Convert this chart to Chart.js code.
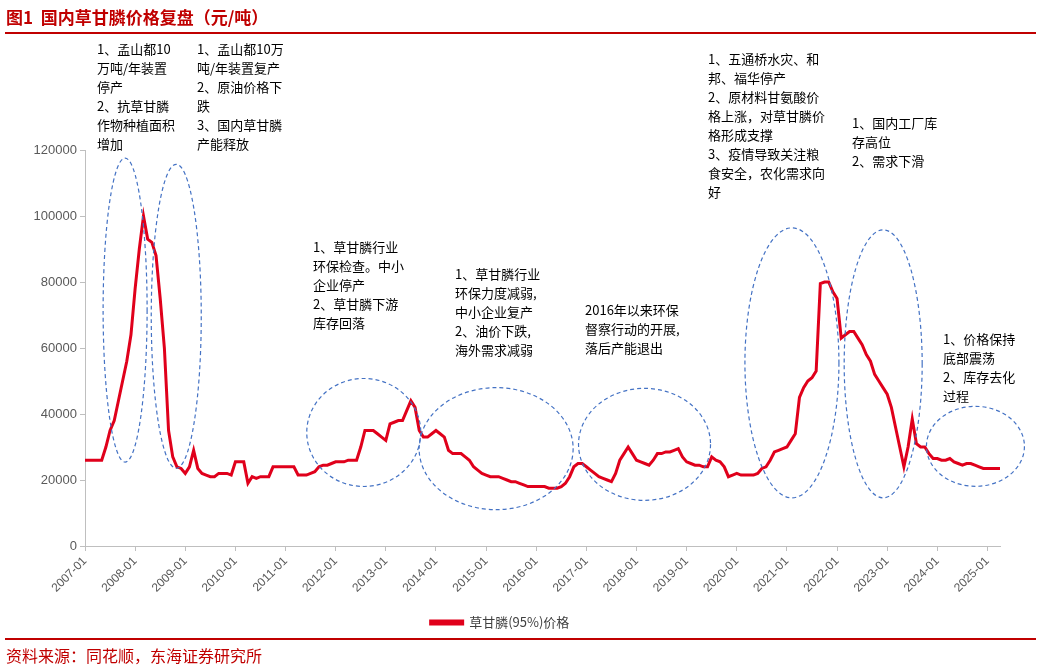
<!DOCTYPE html>
<html><head><meta charset="utf-8">
<script src="https://cdn.jsdelivr.net/npm/chart.js@4"></script>
<style>
body{margin:0;width:1041px;height:668px;position:relative;background:#fff;font-family:"Noto Sans CJK SC","Noto Sans",sans-serif;overflow:hidden}
#c{position:absolute;left:0;top:0}
.title{position:absolute;left:6px;top:4px;color:#c00000;font-weight:bold;font-size:17px}
.hr{position:absolute;left:5px;right:5px;height:1.5px;background:#c00000}
.src{position:absolute;left:6px;top:643px;color:#c00000;font-size:16px}
</style></head><body>
<canvas id="c" width="1041" height="668"></canvas>
<div class="title">图1&nbsp;&nbsp;国内草甘膦价格复盘（元/吨）</div>
<div class="hr" style="top:32px"></div>
<div class="hr" style="top:638px"></div>
<div class="src">资料来源：同花顺，东海证券研究所</div>
<script>
// 月度价格（千元/吨），2007-01 到 2025-04
const precos = [
  26,26,26,26,26,30,35,38,44,50,56,64,
  78,90,100,93,92,88,75,60,35,27,24,23.5,
  22,24,29,23.5,22,21.5,21,21,22,22,22,21.5,
  25.5,25.5,25.5,19,21,20.5,21,21,21,24,24,24,
  24,24,24,21.5,21.5,21.5,22,22.5,24,24.5,24.5,25,
  25.5,25.5,25.5,26,26,26,30,35,35,35,34,33,
  32,37,37.5,38,38,41,44,42,35,33,33,34,
  35,34,33,29,28,28,28,27,26,24,23,22,
  21.5,21,21,21,20.5,20,19.5,19.5,19,18.5,18,18,
  18,18,18,17.5,17.5,17.5,18,19,21,24,25,25,
  24,23,22,21,20.5,20,19.5,22,26,28,30,28,
  26,25.5,25,24.5,26,28,28,28.5,28.5,29,29.5,27,
  25.5,25,24.5,24.5,24,24,27,26,25.5,24,21,21.5,
  22,21.5,21.5,21.5,21.5,22,23.5,24,26,28.5,29,29.5,
  30,32,34,45,48,50,51,53,79.5,80,80,77,
  75,63,64,65,65,63,61,58,56,52,50,48,
  46,42,36,30,24,30,38.5,31,30,30,28,26.5,
  26.5,26,26,26.5,25.5,25,24.5,25,25,24.5,24,23.5,
  23.5,23.5,23.5,23.5
];
const meses = precos.map((_, i) => {
  const ano = 2007 + Math.floor(i / 12);
  const m = (i % 12) + 1;
  return ano + "-" + (m < 10 ? "0" + m : m);
});
const valores = precos.map(v => v * 1000);

// elipses: ano decimal, valor, raios em px
const elipses = [
  [2007.8, 71500, 22, 152], [2008.82, 69600, 25, 152], [2012.56, 34400, 57, 54],
  [2015.2, 29500, 77, 61], [2018.16, 30800, 66, 56], [2021.1, 55500, 47, 135],
  [2022.92, 55200, 39, 134], [2024.76, 30200, 49, 40]
];
// notas: texto, x, y (px)
const notas = [
  [["1、孟山都10","万吨/年装置","停产","2、抗草甘膦","作物种植面积","增加"], 97, 49],
  [["1、孟山都10万","吨/年装置复产","2、原油价格下","跌","3、国内草甘膦","产能释放"], 197, 49],
  [["1、草甘膦行业","环保检查。中小","企业停产","2、草甘膦下游","库存回落"], 313, 247],
  [["1、草甘膦行业","环保力度减弱,","中小企业复产","2、油价下跌,","海外需求减弱"], 455, 274],
  [["2016年以来环保","督察行动的开展,","落后产能退出"], 585, 310],
  [["1、五通桥水灾、和","邦、福华停产","2、原材料甘氨酸价","格上涨，对草甘膦价","格形成支撑","3、疫情导致关注粮","食安全，农化需求向","好"], 708, 59],
  [["1、国内工厂库","存高位","2、需求下滑"], 852, 123],
  [["1、价格保持","底部震荡","2、库存去化","过程"], 943, 339]
];

const anotacoes = {
  id: "anotacoes",
  afterDatasetsDraw(chart) {
    const ctx = chart.ctx, xs = chart.scales.x, ys = chart.scales.y;
    ctx.save();
    ctx.strokeStyle = "#4472c4";
    ctx.lineWidth = 1.2;
    ctx.setLineDash([4, 3]);
    elipses.forEach(e => {
      ctx.beginPath();
      ctx.ellipse(xs.getPixelForValue((e[0] - 2007) * 12), ys.getPixelForValue(e[1]), e[2], e[3], 0, 0, Math.PI * 2);
      ctx.stroke();
    });
    ctx.setLineDash([]);
    ctx.fillStyle = "#000";
    ctx.font = '13px "Noto Sans CJK SC"';
    ctx.textBaseline = "middle";
    notas.forEach(n => n[0].forEach((l, i) => ctx.fillText(l, n[1], n[2] + i * 19)));
    ctx.restore();
  }
};

new Chart(document.getElementById("c"), {
  type: "line",
  data: {
    labels: meses,
    datasets: [{
      label: "草甘膦(95%)价格",
      data: valores,
      borderColor: "#e0001b",
      backgroundColor: "#e0001b",
      borderWidth: 3,
      pointRadius: 0,
      tension: 0
    }]
  },
  options: {
    animation: false,
    responsive: false,
    layout: { padding: { left: 0, right: 41, top: 150, bottom: 29 } },
    plugins: {
      legend: {
        position: "bottom",
        labels: { color: "#404040", font: { size: 13, family: "Noto Sans CJK SC" }, boxWidth: 32, boxHeight: 3 }
      },
      tooltip: { enabled: false }
    },
    scales: {
      x: {
        afterFit: s => { s.height = 60; },
        grid: { drawOnChartArea: false, color: "#bfbfbf", tickLength: 5 },
        border: { color: "#bfbfbf" },
        ticks: {
          autoSkip: false, maxRotation: 45, minRotation: 45, color: "#595959",
          font: { size: 12 },
          callback: (v, i) => meses[i].endsWith("-01") ? meses[i] : null
        }
      },
      y: {
        min: 0, max: 120000,
        afterFit: s => { s.width = 85; },
        grid: { drawOnChartArea: false, color: "#bfbfbf", tickLength: 5 },
        border: { color: "#bfbfbf" },
        ticks: { stepSize: 20000, color: "#595959", font: { size: 13 }, callback: v => String(v) }
      }
    }
  },
  plugins: [anotacoes]
});
</script>
</body></html>
